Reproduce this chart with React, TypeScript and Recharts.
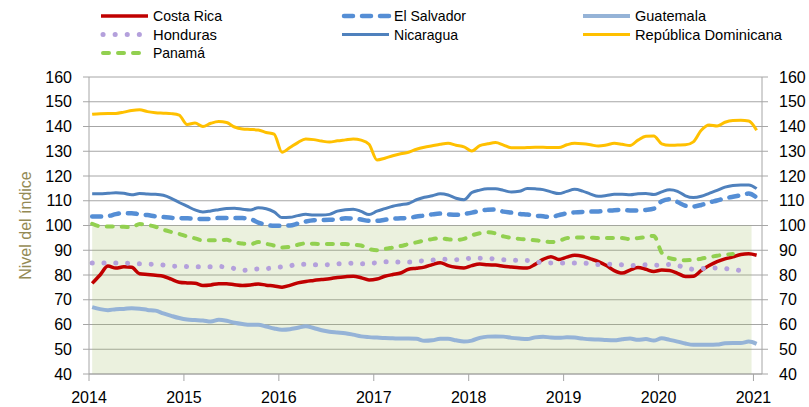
import React from 'react';
import { LineChart, Line, XAxis, YAxis, CartesianGrid, ReferenceArea } from 'recharts';

// monthly index values, Jan 2014 .. Jan 2021
const costaRica = [
  76.6, 80, 83.6, 82.8, 83.3, 83.1, 80.5, 80.2, 79.9, 79.5, 78.3, 77.1,
  76.8, 76.7, 75.8, 76, 76.5, 76.5, 76.1, 75.8, 76, 76.4, 75.9, 75.6,
  75.1, 75.8, 76.8, 77.4, 77.8, 78.2, 78.5, 79, 79.3, 79.5, 78.9, 78,
  78.4, 79.5, 80.2, 80.8, 82.3, 82.7, 83.2, 84.2, 85, 83.8, 83.1, 82.8,
  83.8, 84.4, 84.1, 84, 83.5, 83.2, 82.9, 82.8, 84.3, 86.3, 87.4, 86.3,
  87.2, 88, 87.6, 86.5, 85.4, 83.8, 81.8, 80.8, 82, 83, 82.3, 81.4,
  82, 81.8, 80.7, 79.4, 79.5, 81.8, 83.8, 85.4, 86.5, 87.3, 88.3, 88.6, 88,
];
const elSalvador = [
  103.6, 103.6, 103.8, 104.6, 105, 105, 104.5, 104.2, 103.7, 103.4, 103.1, 103,
  102.9, 102.8, 102.6, 102.7, 103, 103, 103, 103, 102.6, 101.2, 100.3, 99.9,
  99.9, 100, 100.8, 101.6, 102.1, 102.2, 102.3, 102.5, 102.9, 102.8, 102.4, 101.9,
  101.9, 102.3, 102.7, 102.9, 103.1, 103.6, 104, 104.5, 104.8, 104.5, 104.3, 104.7,
  105.2, 105.9, 106.4, 106.5, 105.6, 105.2, 104.7, 104.4, 104, 103.7, 103.4, 104.2,
  104.9, 105.3, 105.5, 105.6, 105.7, 105.9, 106.2, 106.3, 106.1, 106.1, 106.3, 106.8,
  109.8, 110.6, 109.5, 108, 107.7, 108.3, 109.3, 110.1, 111, 111.6, 112.2, 112.9, 111.3,
];
const guatemala = [
  67, 66.2, 65.8, 66.2, 66.3, 66.6, 66.4, 65.9, 65.6, 64.5, 63.5, 62.6,
  62, 61.8, 61.6, 61.2, 61.9, 61.5, 60.7, 60.2, 59.9, 59.9, 59.2, 58.4,
  57.9, 58.1, 58.7, 59.3, 58.6, 57.7, 57.1, 56.8, 56.5, 55.9, 55.2, 54.9,
  54.7, 54.5, 54.4, 54.3, 54.3, 54.2, 53.4, 53.6, 54.2, 54.2, 53.6, 53.1,
  53.5, 54.6, 55.1, 55.2, 55.1, 54.6, 54.3, 54.1, 54.8, 55.1, 54.7, 54.6,
  54.8, 54.7, 54.3, 54, 53.9, 53.7, 53.6, 54, 54.3, 53.8, 54.1, 53.5,
  54.4, 53.8, 53.1, 52.3, 51.8, 51.8, 51.8, 51.9, 52.4, 52.5, 52.5, 53.1, 52.2,
];
const honduras = [
  84.8, 84.8, 84.8, 84.8, 84.8, 84.7, 84.5, 84.4, 84.3, 84, 83.6, 83.5,
  83.4, 83.3, 83.3, 83.3, 83.4, 83.3, 82.6, 81.9, 82.2, 82.5, 82.6, 82.9,
  83.3, 83.7, 84.3, 84.3, 84.1, 84.1, 84.2, 84.5, 84.7, 84.8, 84.5, 84.7,
  85, 85.4, 85.4, 85.2, 85.2, 85.5, 85.8, 86, 86.4, 86.3, 86.2, 86.4,
  86.8, 86.8, 86.7, 86.5, 86.2, 86, 85.9, 85.9, 85.5, 84.9, 84.8, 84.8,
  84.8, 84.8, 84.8, 84.6, 84.2, 84.3, 84.4, 84.1, 83.8, 84, 84.1, 84,
  83.9, 84.3, 83.8, 83.1, 82.3, 82.5, 83, 82.8, 82.6, 82.2, 81.8, 81.4,
];
const nicaragua = [
  112.8, 112.8, 113, 113.2, 113, 112.4, 112.9, 112.7, 112.6, 112.2, 111, 109.3,
  107.8, 106.3, 105.5, 105.9, 106.4, 106.9, 107, 106.6, 106.3, 107.2, 106.8, 105.5,
  103.2, 103.3, 104, 104.5, 104.2, 104.2, 104.5, 105.8, 106.4, 106.6, 105.7, 104.4,
  105.8, 106.8, 107.8, 108.4, 108.9, 110.4, 111.4, 112, 112.8, 112.3, 111, 110.4,
  113.3, 114.3, 114.8, 114.8, 114.2, 113.5, 113.8, 114.9, 114.8, 114.5, 113.6, 112.9,
  113.8, 114.6, 113.9, 112.7, 111.8, 112.1, 112.6, 112.6, 112.4, 112.8, 112.9, 112.5,
  113.6, 114.4, 113.8, 112, 111.3, 111.8, 113, 114.2, 115.5, 116.2, 116.4, 116.4, 114.9,
];
const repDominicana = [
  144.9, 145.2, 145.3, 145.3, 145.8, 146.5, 146.8, 146, 145.6, 145.4, 145.2, 144.6,
  140.8, 141.4, 140, 141.3, 142, 141.6, 139.8, 139, 138.8, 138.6, 137.6, 136.9,
  129.6, 131.5, 133.5, 135, 134.7, 134.1, 133.7, 134.2, 134.6, 135, 134.5, 132.8,
  126.5, 127.2, 128.2, 129, 129.6, 130.8, 131.6, 132.2, 132.8, 133.2, 132.4, 131.8,
  130.1, 132.3, 133, 133.5, 132.5, 131.4, 131.4, 131.5, 131.6, 131.6, 131.5, 131.5,
  132.6, 133.2, 133, 132.6, 132.1, 132.5, 133.2, 132.8, 132.3, 134.5, 136.1, 136.2,
  133, 132.4, 132.5, 132.6, 133.8, 138.5, 140.6, 140.2, 141.7, 142.4, 142.5, 142.2, 138.5,
];
const panama = [
  100.7, 99.7, 99.6, 99.6, 99.5, 99.3, 100.6, 100.2, 99.5, 98.3, 97.4, 96.6,
  95.6, 94.8, 94, 94, 94.1, 94.2, 93.2, 92.7, 92.4, 93.3, 92.6, 91.9,
  91.1, 91.4, 92.2, 92.8, 92.6, 92.5, 92.5, 92.6, 92.5, 92.2, 91.9, 90.5,
  90, 90.5, 91.1, 91.7, 92.5, 93.2, 93.9, 94.5, 94.9, 94.4, 94.2, 94.6,
  96, 96.9, 97.3, 96.8, 95.6, 95, 94.6, 94.3, 94, 93.7, 93.3, 93.8,
  94.9, 95.2, 95.2, 95.1, 94.9, 94.9, 94.9, 94.9, 94.5, 94.9, 95.3, 95.8,
  89, 86.8, 86.2, 86, 86.1, 86.6, 87.2, 87.8, 88.2, 88.5,
];

const years = [2014, 2015, 2016, 2017, 2018, 2019, 2020, 2021];
const yTicks = [40, 50, 60, 70, 80, 90, 100, 110, 120, 130, 140, 150, 160];

const data = costaRica.map((v, i) => ({
  t: 2014 + (i + 0.4) / 12,
  costaRica: v,
  elSalvador: elSalvador[i],
  guatemala: guatemala[i],
  honduras: honduras[i],
  nicaragua: nicaragua[i],
  repDominicana: repDominicana[i],
  panama: panama[i],
}));

const shadeStart = data[0].t;
const shadeEnd = 2020.98;

const series = [
  { key: 'costaRica', name: 'Costa Rica', color: '#C00000', width: 3.5, dash: undefined },
  { key: 'elSalvador', name: 'El Salvador', color: '#558ED5', width: 4.5, dash: '9 9' },
  { key: 'guatemala', name: 'Guatemala', color: '#95B3D7', width: 4, dash: undefined },
  { key: 'honduras', name: 'Honduras', color: '#B4A0DC', width: 5, dash: '0.1 11.7' },
  { key: 'nicaragua', name: 'Nicaragua', color: '#4F81BD', width: 3, dash: undefined },
  { key: 'repDominicana', name: 'República Dominicana', color: '#FFC000', width: 3, dash: undefined },
  { key: 'panama', name: 'Panamá', color: '#92D050', width: 4, dash: '6 9' },
];

// legend layout: 3 columns, 3 rows
const legendPos = [
  { x: 101, y: 16, w: 69 },
  { x: 342, y: 16, w: 72 },
  { x: 583, y: 16, w: 71 },
  { x: 101, y: 34.5, w: 64 },
  { x: 342, y: 34.5, w: 64 },
  { x: 583, y: 34.5, w: 147 },
  { x: 101, y: 53, w: 52 },
];

const FONT = '"Liberation Sans", Arial, sans-serif';

const AxisTitle = ({ viewBox }: any) => {
  const cx = viewBox.x + 5;
  const cy = viewBox.y + viewBox.height / 2;
  return (
    <text x={cx} y={cy} transform={`rotate(-90, ${cx}, ${cy})`} textAnchor="middle" dominantBaseline="central"
      fill="#948A54" fontSize={16} fontFamily={FONT}>
      Nivel del índice
    </text>
  );
};

const Legend = () => (
  <svg width={809} height={65} style={{ position: 'absolute', left: 0, top: 0 }}>
    {series.map((s, i) => {
      const p = legendPos[i];
      const dots = s.key === 'honduras';
      return (
        <g key={s.key}>
          <line x1={p.x + (dots ? 2 : s.dash ? 2 : 0)} x2={p.x + 47} y1={p.y} y2={p.y} stroke={s.color} strokeWidth={s.width}
            strokeDasharray={dots ? '0.1 12' : s.dash} strokeLinecap={s.dash ? 'round' : 'butt'} />
          <text x={p.x + 52} y={p.y + 5} fontSize={14.5} fontFamily={FONT} fill="#000"
            textLength={p.w} lengthAdjust="spacingAndGlyphs">{s.name}</text>
        </g>
      );
    })}
  </svg>
);

const tickStyle = { fill: '#000', fontSize: 16, fontFamily: FONT };

export default function App() {
  return (
    <div style={{ position: 'relative', width: 809, height: 407, fontFamily: FONT }}>
      <style>{`body{margin:0}`}</style>
      <LineChart width={809} height={407} data={data} margin={{ top: 77, right: 0, bottom: 0, left: 20 }}>
        <CartesianGrid yAxisId="left" vertical={false} stroke="#A6A6A6" />
        <ReferenceArea yAxisId="left" x1={shadeStart} x2={shadeEnd} y1={40} y2={100}
          fill="#9BBB59" fillOpacity={0.2} stroke="none" />
        <XAxis dataKey="t" type="number" domain={[2014, 2021.09]} ticks={years} allowDataOverflow
          height={33} tickSize={7} tickMargin={11} tick={tickStyle}
          axisLine={{ stroke: '#A6A6A6' }} tickLine={{ stroke: '#A6A6A6' }} />
        <YAxis yAxisId="left" domain={[40, 160]} ticks={yTicks} width={69} allowDataOverflow
          tickSize={6} tickMargin={11} tick={tickStyle}
          axisLine={{ stroke: '#A6A6A6' }} tickLine={{ stroke: '#A6A6A6' }}
          label={<AxisTitle />} />
        <YAxis yAxisId="right" orientation="right" domain={[40, 160]} ticks={yTicks} width={47} allowDataOverflow
          tickSize={6} tickMargin={11} tick={tickStyle}
          axisLine={{ stroke: '#A6A6A6' }} tickLine={{ stroke: '#A6A6A6' }} />
        {series.map((s) => (
          <Line key={s.key} yAxisId="left" type="monotone" dataKey={s.key} name={s.name}
            stroke={s.color} strokeWidth={s.width} strokeDasharray={s.dash}
            strokeLinecap={s.dash ? 'round' : 'butt'} strokeLinejoin="round"
            dot={false} activeDot={false} isAnimationActive={false} />
        ))}
      </LineChart>
      <Legend />
    </div>
  );
}
